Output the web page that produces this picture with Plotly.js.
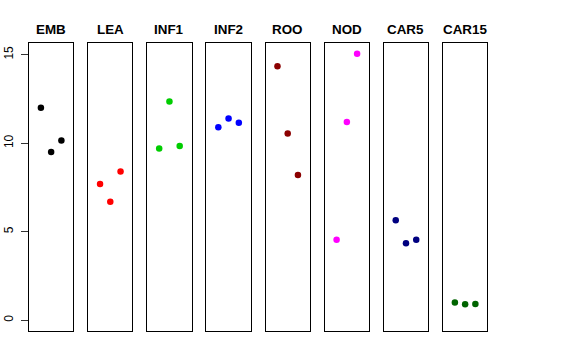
<!DOCTYPE html>
<html>
<head>
<meta charset="utf-8">
<script src="https://cdn.plot.ly/plotly-3.0.1.min.js"></script>
<style>html,body{margin:0;padding:0;background:#fff;}#chart{width:576px;height:360px;}</style>
</head>
<body>
<div id="chart"></div>
<script>
const categories = ["EMB", "LEA", "INF1", "INF2", "ROO", "NOD", "CAR5", "CAR15"];
const colors = ["#000000", "#FF0000", "#00CD00", "#0000FF", "#8B0000", "#FF00FF", "#000080", "#006400"];
const positions = [1, 2, 3];
const EMB = [12.0, 9.5, 10.15];
const LEA = [7.7, 6.7, 8.4];
const INF1 = [9.7, 12.35, 9.85];
const INF2 = [10.9, 11.4, 11.15];
const ROO = [14.35, 10.55, 8.2];
const NOD = [4.55, 11.2, 15.05];
const CAR5 = [5.65, 4.35, 4.55];
const CAR15 = [1.0, 0.9, 0.92];
const yTicks = [0, 5, 10, 15];

const series = [EMB, LEA, INF1, INF2, ROO, NOD, CAR5, CAR15];
const W = 576, H = 360;
const left0 = 29, period = 59.14, pw = 44.3;
const yTop = 43, yBot = 330.7;
const traces = [];
const layout = {
  width: W, height: H,
  margin: {l: 0, r: 0, t: 0, b: 0},
  paper_bgcolor: "#fff", plot_bgcolor: "#fff",
  showlegend: false,
  font: {family: "Liberation Sans, Arial, sans-serif", color: "#000"},
  annotations: []
};
series.forEach((vals, i) => {
  const n = i + 1;
  const xs = n === 1 ? "x" : "x" + n;
  const ys = n === 1 ? "y" : "y" + n;
  traces.push({
    type: "scatter", mode: "markers",
    x: positions, y: vals,
    xaxis: xs, yaxis: ys,
    marker: {color: colors[i], size: 6.5},
    hoverinfo: "skip"
  });
  const l = (left0 + period * i) / W;
  const r = (left0 + period * i + pw) / W;
  layout["xaxis" + (n === 1 ? "" : n)] = {
    domain: [l, r], range: [-0.16, 4.16],
    showgrid: false, zeroline: false, showticklabels: false, ticks: "",
    showline: true, linecolor: "#000", linewidth: 1, mirror: true,
    anchor: ys, fixedrange: true
  };
  layout["yaxis" + (n === 1 ? "" : n)] = {
    domain: [1 - yBot / H, 1 - yTop / H], range: [-0.587, 15.66],
    showgrid: false, zeroline: false,
    showticklabels: n === 1, ticks: n === 1 ? "outside" : "",
    tickvals: yTicks, ticklen: 7, tickcolor: "#333", tickwidth: 1,
    tickangle: -90, ticklabelstandoff: 3,
    tickfont: {size: 12, color: "#000", family: "Liberation Sans, Arial, sans-serif"},
    showline: true, linecolor: "#000", linewidth: 1, mirror: true,
    anchor: xs, fixedrange: true
  };
  layout.annotations.push({
    text: "<b>" + categories[i] + "</b>",
    xref: "paper", yref: "paper",
    x: (left0 + period * i + pw / 2) / W, y: 1 - 29 / H,
    xanchor: "center", yanchor: "middle", showarrow: false,
    font: {size: 13.4, color: "#000", family: "Liberation Sans, Arial, sans-serif"}
  });
});
Plotly.newPlot("chart", traces, layout, {displayModeBar: false, staticPlot: true});
</script>
</body>
</html>
